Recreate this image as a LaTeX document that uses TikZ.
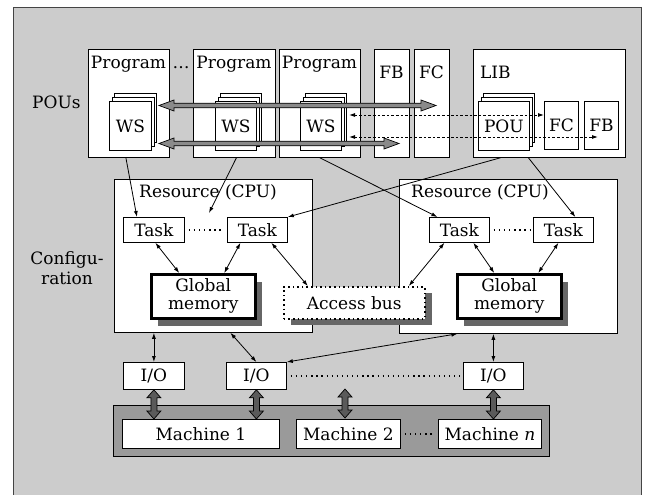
\documentclass[tikz,border=0pt]{standalone}
\usepackage{fontspec}
\setmainfont{DejaVu Serif}
\usetikzlibrary{arrows.meta,calc}
\definecolor{bggray}{HTML}{CCCCCC}
\definecolor{edgec}{HTML}{444444}
\definecolor{shadowc}{HTML}{666666}
\definecolor{machc}{HTML}{9A9A9A}
\definecolor{fatlight}{HTML}{8A8A8A}
\definecolor{fatdark}{HTML}{5A5A5A}
\newcommand\fsz{\fontsize{17}{19}\selectfont}
\newcommand\rbox[7][]{\node[box,minimum width={(#5)-(#3)},minimum height={(#6)-(#4)},#1] (#2) at (#3,#4) {#7};}
\newcommand\wsstack[6]{%
  \rbox{#1c}{#2+5.4}{#3-8}{#4+5.4}{#5-8}{}
  \rbox{#1b}{#2+2.7}{#3-4}{#4+2.7}{#5-4}{}
  \rbox{#1}{#2}{#3}{#4}{#5}{#6}}
\newcommand\hfat[3]{\filldraw[fill=#3,draw=black,line width=0.7pt] let \p1=(#1),\p2=(#2) in
  (\x1,\y1) -- (\x1+15pt,\y1+5.5pt) -- (\x1+15pt,\y1+2.3pt) -- (\x2-15pt,\y1+2.3pt) -- (\x2-15pt,\y1+5.5pt)
  -- (\x2,\y1) -- (\x2-15pt,\y1-5.5pt) -- (\x2-15pt,\y1-2.3pt) -- (\x1+15pt,\y1-2.3pt) -- (\x1+15pt,\y1-5.5pt) -- cycle;}
\newcommand\vfat[3]{\filldraw[fill=#3,draw=black,line width=0.7pt] let \p1=(#1),\p2=(#2) in
  (\x1,\y1) -- (\x1+7pt,\y1-8pt) -- (\x1+3pt,\y1-8pt) -- (\x1+3pt,\y2+8pt) -- (\x1+7pt,\y2+8pt)
  -- (\x1,\y2) -- (\x1-7pt,\y2+8pt) -- (\x1-3pt,\y2+8pt) -- (\x1-3pt,\y1-8pt) -- (\x1-7pt,\y1-8pt) -- cycle;}
\begin{document}
\begin{tikzpicture}[x=1pt,y=-1pt,
  box/.style={draw=black,fill=white,line width=0.8pt,inner sep=0pt,anchor=north west,font=\fsz,align=center},
  lbl/.style={inner sep=0pt,font=\fsz},
  arr/.style={line width=0.8pt,-{Latex[length=6pt,width=4pt]}},
  darr/.style={line width=0.8pt,{Latex[length=6pt,width=4pt]}-{Latex[length=6pt,width=4pt]}},
  dotl/.style={line width=1.3pt,dash pattern=on 1.3pt off 3.8pt},
  dashl/.style={line width=0.9pt,dash pattern=on 2.6pt off 2pt,{Latex[length=6pt,width=4pt]}-{Latex[length=6pt,width=4pt]}}]
\useasboundingbox (0,0) rectangle (653,495);
\fill[bggray] (13,7) rectangle (641,495);
\draw[edgec,line width=0.9pt] (13,495) -- (13,7) -- (641,7) -- (641,495);
% POUs
\rbox{p1}{88}{49}{169}{157}{}
\rbox{p2}{193}{49}{275}{157}{}
\rbox{p3}{279}{49}{360}{157}{}
\rbox{fb}{374}{49}{409}{157}{}
\rbox{fc}{414}{49}{449}{157}{}
\rbox{lib}{473}{49}{625}{157}{}
\node[lbl,anchor=base] (p1t) at (128.5,68) {Program};
\node[lbl,anchor=base] (p2t) at (234,68) {Program};
\node[lbl,anchor=base] (p3t) at (319.5,68) {Program};
\node[lbl,anchor=base] (pdots) at (181,68) {…};
\node[lbl,anchor=base] (fbt) at (391.5,78) {FB};
\node[lbl,anchor=base] (fct) at (431.5,78) {FC};
\node[lbl,anchor=base west] (libt) at (480,78) {LIB};
\node[lbl,anchor=base west] (pous) at (32,108) {POUs};
\wsstack{ws1}{109}{101}{151}{150}{WS}
\wsstack{ws2}{215}{101}{256}{150}{WS}
\wsstack{ws3}{300}{101}{341}{150}{WS}
\wsstack{pou}{478}{101}{529}{150}{POU}
\rbox{lfc}{544}{101}{578}{149}{FC}
\rbox{lfb}{584}{101}{618}{149}{FB}
\coordinate (fa1) at (159,105.5); \coordinate (fb1) at (436,105.5);
\coordinate (fa2) at (159,143.5); \coordinate (fb2) at (399,143.5);
\hfat{fa1}{fb1}{fatlight}
\hfat{fa2}{fb2}{fatlight}
\coordinate (da1) at (349,115); \coordinate (da2) at (349,137); \coordinate (db2) at (598,137);
\draw[dashl] (da1) -- (da1 -| lfc.west);
\draw[dashl] (da2) -- (db2);
% Configuration
\node[lbl,align=center] (cfg) at (67,268) {Configu-\\[1pt]ration};
\rbox{r1}{114}{179}{312}{332}{}
\rbox{r2}{399}{179}{617}{333}{}
\node[lbl,anchor=base west] (r1t) at (139,197) {Resource (CPU)};
\node[lbl,anchor=base west] (r2t) at (411,197) {Resource (CPU)};
\rbox{t1}{123}{217}{184}{242}{Task}
\rbox{t2}{227}{217}{287}{242}{Task}
\rbox{t3}{429}{217}{489}{242}{Task}
\rbox{t4}{533}{217}{593}{242}{Task}
\draw[dotl] ([xshift=4pt]t1.east) -- ([xshift=-3pt]t2.west);
\draw[dotl] ([xshift=4pt]t3.east) -- ([xshift=-3pt]t4.west);
\fill[shadowc] (158,282) rectangle (262,326);
\rbox[line width=2.5pt]{gm1}{150}{273}{254}{317}{Global\\[-1pt]memory}
\fill[shadowc] (464,282) rectangle (568,326);
\rbox[line width=2.5pt]{gm2}{456}{273}{560}{317}{Global\\[-1pt]memory}
\fill[shadowc] (291,293) rectangle (432,325);
\rbox[dash pattern=on 1.6pt off 3pt,line width=1.6pt]{ab}{283}{286}{424}{318}{Access bus}
% I/O and machines
\rbox{io1}{123}{362}{184}{389}{I/O}
\rbox{io2}{226}{362}{286}{389}{I/O}
\rbox{io3}{463}{362}{523}{389}{I/O}
\draw[dotl] ([xshift=4pt]io2.east) -- ([xshift=-3pt]io3.west);
\rbox[fill=machc]{mach}{113}{405}{549}{456}{}
\rbox{m1}{122}{419}{279}{448}{Machine 1}
\rbox{m2}{296}{419}{400}{448}{Machine 2}
\rbox{mn}{438}{419}{541}{448}{Machine \textit{n}}
\draw[dotl] ([xshift=4pt]m2.east) -- ([xshift=-3pt]mn.west);
\coordinate (v1a) at (io1.south); \coordinate (v1b) at (io1.south |- m1.north);
\coordinate (v2a) at (io2.south); \coordinate (v2b) at (io2.south |- m1.north);
\coordinate (v3a) at (345,389); \coordinate (v3b) at (345,418);
\coordinate (v4a) at (io3.south); \coordinate (v4b) at (io3.south |- mn.north);
\vfat{v1a}{v1b}{fatdark}
\vfat{v2a}{v2b}{fatdark}
\vfat{v3a}{v3b}{fatdark}
\vfat{v4a}{v4b}{fatdark}
% connectors
\coordinate (tdots) at (209,213);
\draw[arr] ([xshift=-3pt]p1.south) -- ([xshift=-17pt]t1.north);
\draw[arr] ([xshift=2pt]p2.south) -- (tdots);
\draw[arr] (p3.south) -- ([xshift=-22pt]t3.north);
\draw[arr] ([xshift=-49pt]lib.south) -- (t2.north east);
\draw[arr] ([xshift=-21pt]lib.south) -- ([xshift=12pt]t4.north);
\draw[darr] ([xshift=1.5pt]t1.south) -- ([xshift=-24pt]gm1.north);
\draw[darr] ([xshift=-17pt]t2.south) -- ([xshift=21pt]gm1.north);
\draw[darr] ([xshift=14pt]t2.south) -- ([xshift=-46.5pt]ab.north);
\draw[darr] ([xshift=-15pt]t3.south) -- ([xshift=54.5pt]ab.north);
\draw[darr] ([xshift=14pt]t3.south) -- ([xshift=-15pt]gm2.north);
\draw[darr] ([xshift=-5pt]t4.south) -- ([xshift=29pt]gm2.north);
\draw[darr] (io1.north |- r1.south) -- (io1.north);
\draw[darr] ([xshift=17pt]r1.south) -- (io2.north);
\draw[darr] (io2.north east) -- ([xshift=-51pt]r2.south);
\draw[darr] (io3.north |- r2.south) -- (io3.north);
\end{tikzpicture}
\end{document}
